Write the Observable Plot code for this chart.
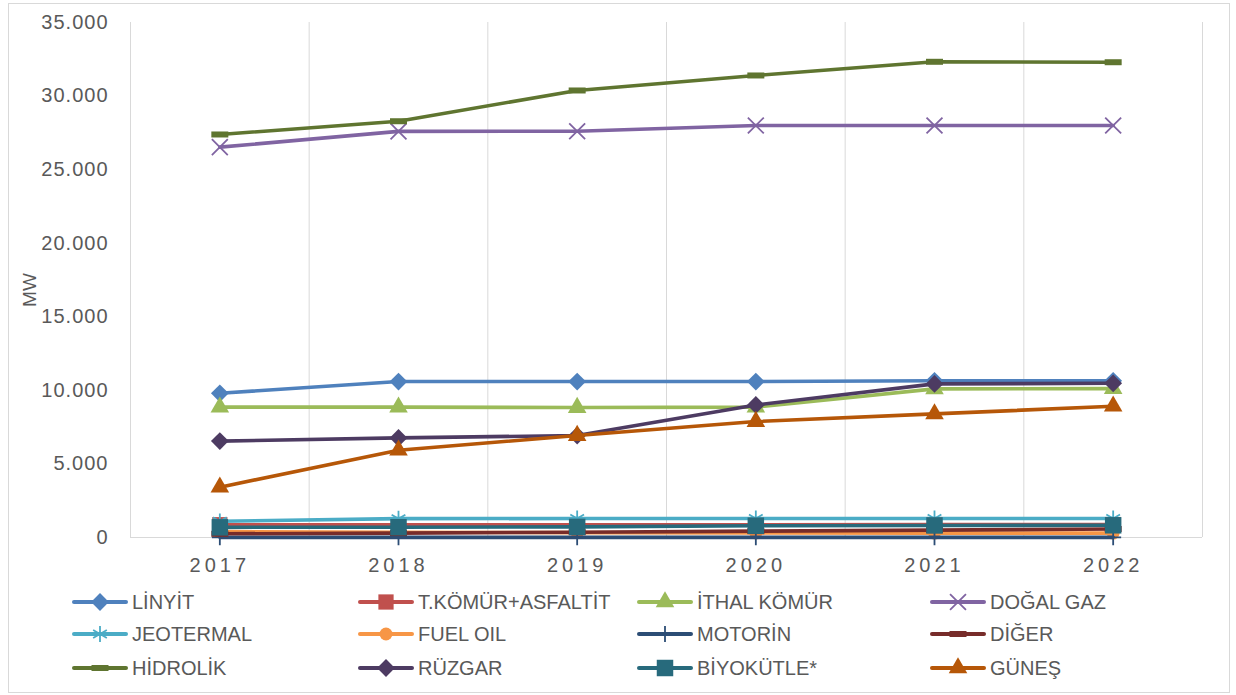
<!DOCTYPE html>
<html><head><meta charset="utf-8">
<script src="https://cdn.jsdelivr.net/npm/d3@7"></script>
<script src="https://cdn.jsdelivr.net/npm/@observablehq/plot@0.6"></script>
<style>
body{margin:0;background:#fff;font-family:"Liberation Sans",Arial,sans-serif;}
#frame{position:absolute;left:8px;top:3px;width:1222px;height:690px;border:1px solid #d9d9d9;box-sizing:border-box;}
#chart{position:absolute;left:0;top:0;}
#ylabel{position:absolute;left:30px;top:290px;transform:translate(-50%,-50%) rotate(-90deg);font-size:19px;color:#595959;}
.item{position:absolute;height:30px;display:flex;align-items:center;font-size:20px;color:#595959;white-space:nowrap;}
.item svg{margin-right:3px;}
#chart svg [aria-label^="x-axis"] text{letter-spacing:4px;}
#chart svg [aria-label^="y-axis"] text{letter-spacing:1px;}
</style></head><body>
<div id="frame"></div>
<div id="chart"></div>
<div id="ylabel">MW</div>
<div id="legend"></div>
<script>
// ---- data ----
const years = [2017, 2018, 2019, 2020, 2021, 2022];
const seriesNames = ["LİNYİT","T.KÖMÜR+ASFALTİT","İTHAL KÖMÜR","DOĞAL GAZ","JEOTERMAL","FUEL OIL","MOTORİN","DİĞER","HİDROLİK","RÜZGAR","BİYOKÜTLE*","GÜNEŞ"];
const linyit     = [9800, 10600, 10600, 10600, 10650, 10650];
const tkomur     = [870, 860, 860, 870, 880, 880];
const ithalKomur = [8860, 8860, 8830, 8860, 10100, 10120];
const dogalGaz   = [26530, 27600, 27610, 28000, 28000, 28000];
const jeotermal  = [1100, 1280, 1290, 1290, 1290, 1290];
const fuelOil    = [400, 360, 330, 310, 300, 300];
const motorin    = [10, 10, 10, 10, 10, 10];
const diger      = [250, 300, 360, 430, 500, 580];
const hidrolik   = [27390, 28290, 30380, 31400, 32330, 32300];
const ruzgar     = [6550, 6770, 6930, 9010, 10440, 10480];
const biyokutle  = [690, 700, 720, 800, 820, 830];
const gunes      = [3420, 5930, 6930, 7880, 8400, 8920];
const seriesValues = [linyit, tkomur, ithalKomur, dogalGaz, jeotermal, fuelOil, motorin, diger, hidrolik, ruzgar, biyokutle, gunes];
const yTicks = [0, 5000, 10000, 15000, 20000, 25000, 30000, 35000];

// ---- styles ----
const dash = {draw(ctx){ ctx.moveTo(-8.5,-3); ctx.lineTo(8.5,-3); ctx.lineTo(8.5,3); ctx.lineTo(-8.5,3); ctx.closePath(); }};
const seriesColors = ["#4F81BD","#C0504D","#9BBB59","#8064A2","#4BACC6","#F79646","#2C4D75","#772C2A","#5F7530","#4D3B62","#276A7C","#B65708"];
const seriesSymbols = [d3.symbolDiamond2, d3.symbolSquare, d3.symbolTriangle, d3.symbolTimes, d3.symbolAsterisk, d3.symbolCircle, d3.symbolPlus, dash, dash, d3.symbolDiamond2, d3.symbolSquare, d3.symbolTriangle];
const seriesR = [8, 8.6, 6.9, 7.3, 7.5, 6.5, 5.2, 5, 5, 8, 9.3, 6.9];
const seriesFilled = [true, true, true, false, false, true, false, true, true, true, true, true];

const fmt = d3.formatLocale({decimal:",", thousands:".", grouping:[3], currency:["",""]}).format(",");
const bounds = years.map(y => y - 0.5).concat([years[years.length-1] + 0.5]);

const marks = [
  Plot.ruleX(bounds, {stroke:"#d9d9d9", strokeWidth:1}),
  Plot.ruleY([0], {stroke:"#d9d9d9", strokeWidth:1})
];
seriesNames.forEach((name, k) => {
  const data = years.map((yr, i) => ({year: yr, value: seriesValues[k][i], series: name}));
  marks.push(Plot.line(data, {x:"year", y:"value", stroke: seriesColors[k], strokeWidth:3.6, strokeLinejoin:"round", strokeLinecap:"round"}));
  marks.push(Plot.dot(data, {x:"year", y:"value", symbol: seriesSymbols[k], r: seriesR[k],
    fill: seriesFilled[k] ? seriesColors[k] : "none",
    stroke: seriesFilled[k] ? "none" : seriesColors[k], strokeWidth: 1.8}));
});

const chart = Plot.plot({
  width: 1236, height: 585,
  marginTop: 22, marginBottom: 48, marginLeft: 130, marginRight: 34,
  style: {fontFamily: '"Liberation Sans", Arial, sans-serif', fontSize: "20px", color: "#595959", background: "transparent"},
  x: {type: "linear", domain: [bounds[0], bounds[bounds.length-1]], ticks: years, tickFormat: d => String(d), tickSize: 0, tickPadding: 20, label: null},
  y: {domain: [0, 35000], ticks: yTicks, tickFormat: fmt, tickSize: 0, tickPadding: 22, label: null},
  marks
});
document.getElementById("chart").appendChild(chart);

// ---- legend ----
const legend = document.getElementById("legend");
const colX = [132, 418, 697, 990];
const rowY = [602, 634, 668];
seriesNames.forEach((name, k) => {
  const col = k % 4, row = Math.floor(k / 4);
  const div = document.createElement("div");
  div.className = "item";
  div.style.left = (colX[col] - 61) + "px";
  div.style.top = (rowY[row] - 15) + "px";
  const r = seriesR[k];
  const p = d3.symbol(seriesSymbols[k], Math.PI * r * r)();
  const c = seriesColors[k];
  div.innerHTML = `<svg width="58" height="30" viewBox="0 0 58 30">
    <line x1="3" y1="15" x2="55" y2="15" stroke="${c}" stroke-width="4" stroke-linecap="round"/>
    <path d="${p}" transform="translate(29,15)" fill="${seriesFilled[k] ? c : "none"}" stroke="${seriesFilled[k] ? "none" : c}" stroke-width="1.8"/>
  </svg><span>${name}</span>`;
  legend.appendChild(div);
});
</script>
</body></html>
